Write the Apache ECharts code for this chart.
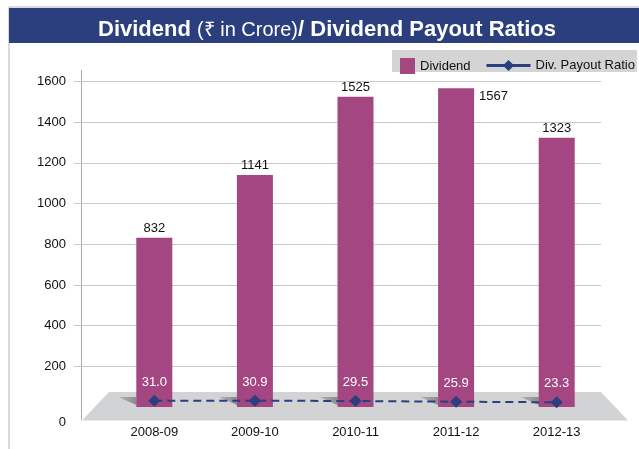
<!DOCTYPE html>
<html>
	<head>
		<meta charset="utf-8">
		<title>Dividend / Dividend Payout Ratios</title>
		<script src="https://cdn.jsdelivr.net/npm/echarts@6/dist/echarts.min.js"></script>
		<style type="text/css">
			html, body{
				margin: 0;
				padding: 0;
				background: #fff;
			}
			#chart{
				width: 639px;
				height: 449px;
			}
		</style>
	</head>
	<body>
		<div id="chart"></div>
		<script>
			// 数据
			var years = ['2008-09', '2009-10', '2010-11', '2011-12', '2012-13'];
			var dividend = [832, 1141, 1525, 1567, 1323];
			var payoutRatio = [31.0, 30.9, 29.5, 25.9, 23.3];
			var yTicks = [0, 200, 400, 600, 800, 1000, 1200, 1400, 1600];

			var FONT = '"Liberation Sans", Arial, sans-serif';
			var NAVY = '#2B3F7E';
			var PLUM = '#A34682';

			var myChart = echarts.init(document.getElementById('chart'));

			// 1567 的标签放在柱子右侧
			var barData = dividend.map(function(v, i){
				if(i == 3){
					return { value: v, label: { position: [41, 2] } };
				}
				return v;
			});

			var yMin = yTicks[0];
			var yMax = yTicks[yTicks.length - 1];

			var option = {
				backgroundColor: '#fff',
				animation: false,
				textStyle: { fontFamily: FONT },
				title: {
					left: 93,
					top: 9,
					text: '{b|Dividend }{n|(₹ in Crore)}{b|/ Dividend Payout Ratios}',
					textStyle: {
						rich: {
							b: { fontFamily: FONT, fontSize: 22, fontWeight: 'bold', color: '#fff', lineHeight: 32 },
							n: { fontFamily: FONT, fontSize: 20, fontWeight: 'normal', color: '#fff', lineHeight: 32 }
						}
					}
				},
				graphic: [
					// 外框
					{ type: 'rect', z: -10, shape: { x: 9, y: 7, width: 640, height: 450 },
						style: { fill: '#fff', stroke: '#B4B4B4', lineWidth: 1 } },
					// 标题栏
					{ type: 'rect', z: -9, shape: { x: 9, y: 8, width: 630, height: 35 },
						style: { fill: NAVY } },
					// 图例底色
					{ type: 'rect', z: -9, shape: { x: 392, y: 50, width: 245, height: 22 },
						style: { fill: '#D4D4D4' } },
					// 地板
					{ type: 'polygon', z: -5, shape: { points: [[109, 392], [601, 392], [628, 420.5], [82, 420.5]] },
						style: { fill: '#D2D3D5' } },
					// 纵轴线
					{ type: 'line', z: -4, shape: { x1: 81.5, y1: 70, x2: 81.5, y2: 420 },
						style: { stroke: '#A8A8A8', lineWidth: 1 } }
				],
				legend: [{
					data: [{ name: 'Dividend', icon: 'rect' }],
					left: 395,
					top: 53,
					itemWidth: 15,
					itemHeight: 16,
					textStyle: { fontFamily: FONT, fontSize: 13, color: '#111' }
				}, {
					data: ['Div. Payout Ratio'],
					left: 480,
					top: 54,
					itemWidth: 44,
					itemHeight: 14,
					lineStyle: { type: 'solid', width: 3 },
					textStyle: { fontFamily: FONT, fontSize: 13, color: '#111' }
				}],
				grid: [
					{ left: 74, right: 38, top: 81.5, bottom: 42 },
					{ left: 104, right: 32, top: 81.5, bottom: 42 }
				],
				xAxis: [{
					gridIndex: 0,
					type: 'category',
					data: years,
					show: false
				}, {
					gridIndex: 1,
					type: 'category',
					data: years,
					axisLine: { show: false },
					axisTick: { show: false },
					axisLabel: {
						margin: 19,
						fontFamily: FONT,
						fontSize: 13,
						color: '#111'
					}
				}],
				yAxis: [{
					gridIndex: 0,
					type: 'value',
					min: yMin,
					max: yMax,
					interval: 200,
					axisLine: { show: false },
					axisTick: { show: false },
					axisLabel: {
						margin: 8,
						fontFamily: FONT,
						fontSize: 13,
						color: '#111',
						formatter: function(v){
							if(v == 0){
								return '{z|0}';
							}
							return v;
						},
						rich: {
							z: { fontFamily: FONT, fontSize: 13, color: '#111', padding: [30, 0, 0, 0] }
						}
					},
					splitLine: {
						show: true,
						showMinLine: false,
						lineStyle: { color: '#C8C8C8', width: 1 }
					}
				}, {
					gridIndex: 1,
					type: 'value',
					min: yMin,
					max: yMax,
					show: false
				}],
				series: [{
					// 柱子底部阴影
					type: 'custom',
					xAxisIndex: 1,
					yAxisIndex: 1,
					silent: true,
					z: 1,
					data: years.map(function(y, i){ return [i, 0]; }),
					renderItem: function(params, api){
						var p = api.coord([api.value(0), 0]);
						var left = p[0] - 18;
						return {
							type: 'polygon',
							shape: { points: [[left - 18, p[1] - 10], [left, p[1] - 10], [left, p[1] - 2]] },
							style: {
								fill: new echarts.graphic.LinearGradient(0, 0, 1, 0, [
									{ offset: 0, color: '#B4B4B6' },
									{ offset: 1, color: '#8A8A8C' }
								])
							}
						};
					}
				}, {
					name: 'Dividend',
					type: 'bar',
					xAxisIndex: 1,
					yAxisIndex: 1,
					barWidth: 36,
					z: 2,
					itemStyle: { color: PLUM },
					label: {
						show: true,
						position: 'top',
						distance: 3,
						fontFamily: FONT,
						fontSize: 13,
						color: '#111'
					},
					data: barData
				}, {
					name: 'Div. Payout Ratio',
					type: 'line',
					xAxisIndex: 1,
					yAxisIndex: 1,
					z: 5,
					symbol: 'diamond',
					symbolSize: 12,
					itemStyle: { color: NAVY },
					lineStyle: { color: NAVY, width: 2, type: [8, 5] },
					label: {
						show: true,
						position: 'top',
						distance: 6,
						fontFamily: FONT,
						fontSize: 13,
						color: '#fff',
						formatter: function(p){
							return p.value.toFixed(1);
						}
					},
					data: payoutRatio
				}]
			};

			myChart.setOption(option);
		</script>
	</body>
</html>
